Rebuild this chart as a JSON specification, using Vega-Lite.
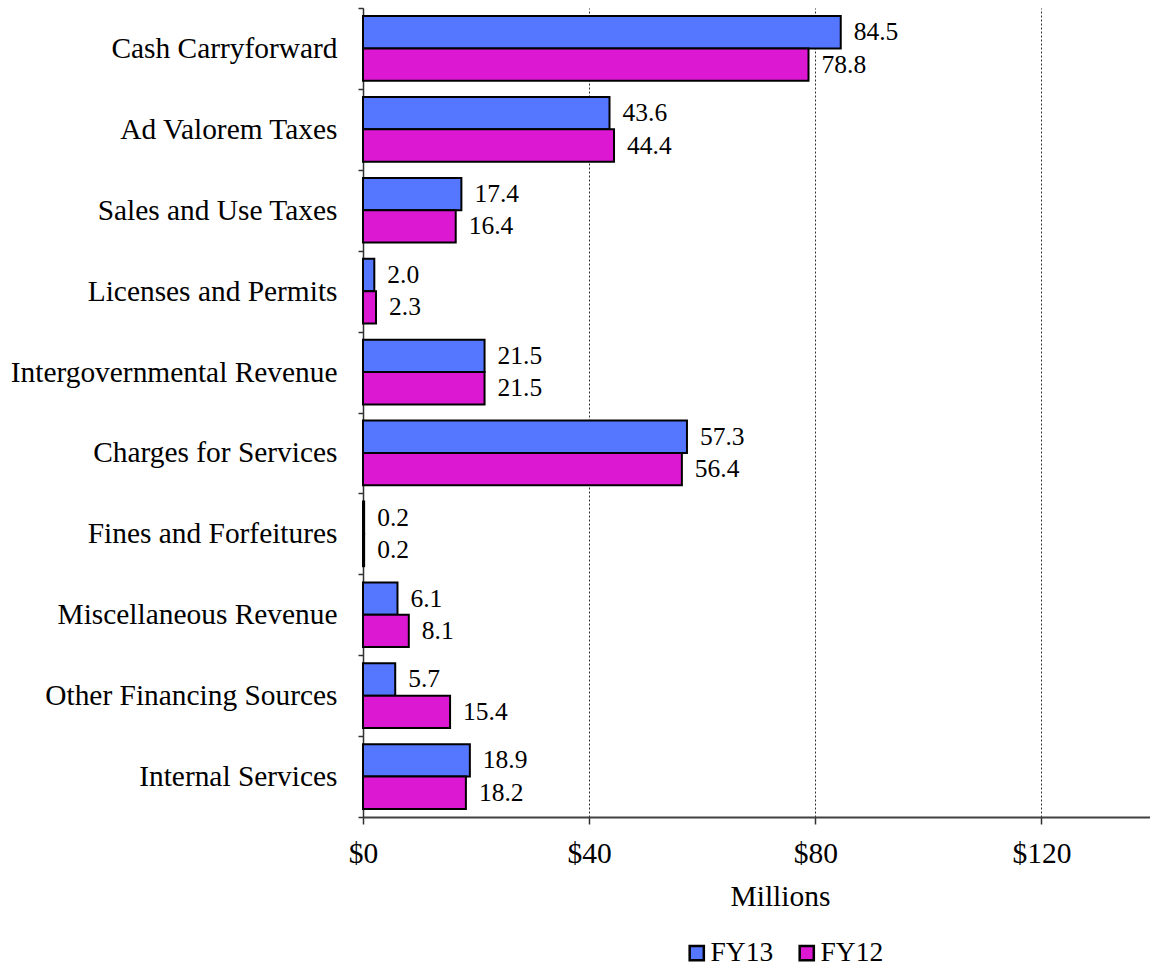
{
  "$schema": "https://vega.github.io/schema/vega-lite/v6.json",
  "autosize": "none",
  "width": 787,
  "height": 809,
  "padding": {"left": 363, "top": 8, "right": 0, "bottom": 151},
  "background": "white",
  "config": {
    "font": "Liberation Serif",
    "view": {"stroke": null},
    "axis": {"labelFont": "Liberation Serif", "titleFont": "Liberation Serif", "labelColor": "black", "titleColor": "black", "titleFontWeight": "normal"},
    "legend": {"labelFont": "Liberation Serif"}
  },
  "data": {
    "values": [
      {"category": "Cash Carryforward", "series": "FY13", "value": 84.5},
      {"category": "Cash Carryforward", "series": "FY12", "value": 78.8},
      {"category": "Ad Valorem Taxes", "series": "FY13", "value": 43.6},
      {"category": "Ad Valorem Taxes", "series": "FY12", "value": 44.4},
      {"category": "Sales and Use Taxes", "series": "FY13", "value": 17.4},
      {"category": "Sales and Use Taxes", "series": "FY12", "value": 16.4},
      {"category": "Licenses and Permits", "series": "FY13", "value": 2.0},
      {"category": "Licenses and Permits", "series": "FY12", "value": 2.3},
      {"category": "Intergovernmental Revenue", "series": "FY13", "value": 21.5},
      {"category": "Intergovernmental Revenue", "series": "FY12", "value": 21.5},
      {"category": "Charges for Services", "series": "FY13", "value": 57.3},
      {"category": "Charges for Services", "series": "FY12", "value": 56.4},
      {"category": "Fines and Forfeitures", "series": "FY13", "value": 0.2},
      {"category": "Fines and Forfeitures", "series": "FY12", "value": 0.2},
      {"category": "Miscellaneous Revenue", "series": "FY13", "value": 6.1},
      {"category": "Miscellaneous Revenue", "series": "FY12", "value": 8.1},
      {"category": "Other Financing Sources", "series": "FY13", "value": 5.7},
      {"category": "Other Financing Sources", "series": "FY12", "value": 15.4},
      {"category": "Internal Services", "series": "FY13", "value": 18.9},
      {"category": "Internal Services", "series": "FY12", "value": 18.2}
    ]
  },
  "encoding": {
    "y": {
      "field": "category",
      "type": "nominal",
      "sort": null,
      "scale": {"paddingInner": 0, "paddingOuter": 0},
      "axis": {
        "title": null,
        "labelFontSize": 29.4,
        "labelPadding": 21,
        "tickSize": 5,
        "tickBand": "extent",
        "tickColor": "#303030",
        "domainColor": "#303030",
        "domainWidth": 1.5,
        "tickWidth": 1.5,
        "labelLimit": 400
      }
    },
    "yOffset": {
      "field": "series",
      "type": "nominal",
      "sort": ["FY13", "FY12"],
      "scale": {"paddingOuter": 0.25, "paddingInner": 0}
    },
    "x": {
      "field": "value",
      "type": "quantitative",
      "scale": {"domain": [0, 139.2], "nice": false},
      "axis": {
        "values": [0, 40, 80, 120],
        "format": "$.0f",
        "labelFlush": false,
        "labelFontSize": 29.5,
        "labelPadding": 15,
        "tickSize": 7,
        "tickColor": "#303030",
        "tickWidth": 1.5,
        "domainColor": "#404040",
        "domainWidth": 2,
        "grid": true,
        "gridDash": [2, 2],
        "gridColor": "#303030",
        "gridWidth": 1,
        "title": "Millions",
        "titleFontSize": 29.5,
        "titleBaseline": "alphabetic",
        "titleX": 417,
        "titleY": 88,
        "titleAnchor": "middle"
      }
    }
  },
  "layer": [
    {
      "mark": {"type": "bar", "stroke": "black", "strokeWidth": 2},
      "encoding": {
        "color": {
          "field": "series",
          "type": "nominal",
          "scale": {"domain": ["FY13", "FY12"], "range": ["#5577ff", "#dc18d2"]},
          "legend": {
            "title": null,
            "orient": "none",
            "direction": "horizontal",
            "legendX": 320,
            "legendY": 931,
            "symbolType": "square",
            "symbolSize": 200,
            "symbolStrokeColor": "black",
            "symbolStrokeWidth": 2.5,
            "symbolOpacity": 1,
            "labelFontSize": 27.5,
            "labelColor": "black",
            "labelOffset": 0,
            "columnPadding": 19
          }
        }
      }
    },
    {
      "mark": {"type": "text", "align": "left", "baseline": "middle", "dx": 13, "fontSize": 25.5, "color": "black"},
      "encoding": {
        "text": {"field": "value", "type": "quantitative", "format": ".1f"}
      }
    }
  ]
}
